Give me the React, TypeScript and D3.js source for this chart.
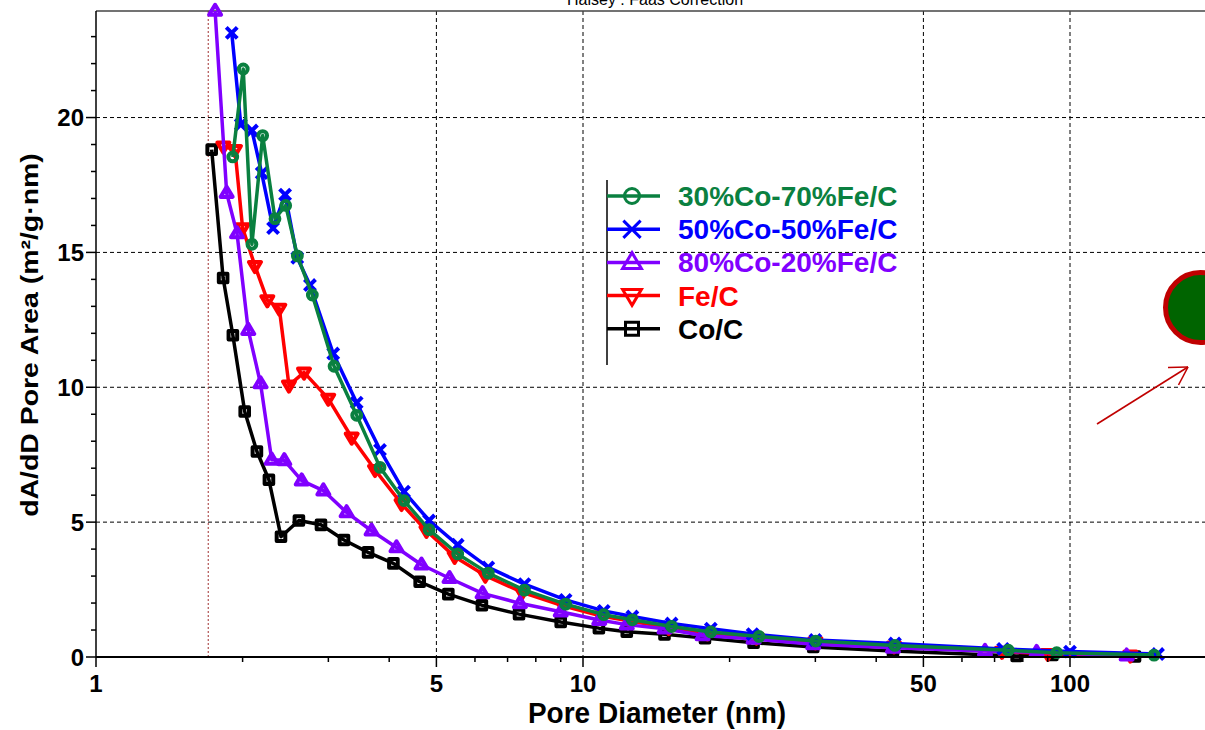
import React from "react";
import * as d3 from "d3";

const W = 1205;
const H = 730;

const xTicksMajor = [1, 5, 10, 50, 100];
const xTickLabels = ["1", "5", "10", "50", "100"];
const xTicksMinor = [2, 3, 4, 6, 7, 8, 9, 20, 30, 40, 60, 70, 80, 90, 200];
const yTicksMajor = [0, 5, 10, 15, 20];
const yTicksMinor = [1, 2, 3, 4, 6, 7, 8, 9, 11, 12, 13, 14, 16, 17, 18, 19, 21, 22, 23];
const xGrid = [5, 10, 50, 100];
const yGrid = [5, 10, 15, 20];
const refLine = 1.7;
const yMax = 23.95;

const seriesNames = ["30%Co-70%Fe/C", "50%Co-50%Fe/C", "80%Co-20%Fe/C", "Fe/C", "Co/C"];
const seriesColors = ["#0a8040", "#0000ff", "#8000ff", "#ff0000", "#000000"];
const seriesMarkers = ["circle", "x", "triUp", "triDown", "square"];

const greenX = [1.909, 2.006, 2.09, 2.199, 2.331, 2.452, 2.591, 2.781, 3.082, 3.43, 3.83, 4.29, 4.83, 5.53, 6.39, 7.58, 9.21, 11.03, 12.63, 15.2, 18.3, 22.98, 30.05, 43.7, 74.7, 93.9, 148.8];
const greenY = [18.54, 21.8, 15.3, 19.33, 16.25, 16.74, 14.87, 13.42, 10.78, 8.96, 7.03, 5.8, 4.72, 3.82, 3.11, 2.48, 1.96, 1.57, 1.38, 1.13, 0.93, 0.76, 0.59, 0.43, 0.25, 0.16, 0.07];

const blueX = [1.9, 1.983, 2.09, 2.189, 2.31, 2.445, 2.59, 2.75, 3.07, 3.43, 3.83, 4.29, 4.83, 5.53, 6.39, 7.58, 9.21, 11.03, 12.63, 15.2, 18.3, 22.3, 30, 43.7, 72.9, 100, 151.6];
const blueY = [23.14, 19.74, 19.52, 17.94, 15.9, 17.14, 14.8, 13.79, 11.25, 9.43, 7.68, 6.13, 5.06, 4.16, 3.32, 2.7, 2.12, 1.71, 1.5, 1.24, 1.05, 0.85, 0.63, 0.5, 0.3, 0.2, 0.11];

const purpleX = [1.756, 1.855, 1.948, 2.054, 2.177, 2.295, 2.436, 2.645, 2.93, 3.27, 3.68, 4.14, 4.66, 5.32, 6.22, 7.42, 9.0, 10.8, 12.3, 14.7, 17.6, 22.4, 29.7, 43.3, 66.9, 85.4, 130.7];
const purpleY = [23.95, 17.2, 15.7, 12.12, 10.14, 7.31, 7.29, 6.54, 6.17, 5.36, 4.68, 4.06, 3.42, 2.92, 2.36, 1.99, 1.68, 1.37, 1.2, 1.05, 0.8, 0.67, 0.47, 0.34, 0.22, 0.18, 0.05];

const redX = [1.826, 1.929, 2.0, 2.12, 2.248, 2.379, 2.49, 2.674, 2.998, 3.35, 3.74, 4.24, 4.77, 5.45, 6.3, 7.5, 9.1, 10.9, 12.5, 15.0, 18.0, 22.7, 30, 43.5, 72.5, 90, 133];
const redY = [18.93, 18.8, 15.9, 14.5, 13.23, 12.92, 10.07, 10.55, 9.58, 8.14, 6.94, 5.68, 4.68, 3.72, 3.02, 2.4, 1.9, 1.52, 1.33, 1.08, 0.88, 0.72, 0.55, 0.4, 0.2, 0.12, 0.06];

const blackX = [1.728, 1.824, 1.91, 2.02, 2.14, 2.265, 2.398, 2.61, 2.897, 3.23, 3.62, 4.08, 4.62, 5.29, 6.2, 7.39, 9.0, 10.78, 12.3, 14.7, 17.8, 22.4, 29.7, 43.3, 77.7, 92, 136];
const blackY = [18.81, 14.05, 11.93, 9.1, 7.62, 6.57, 4.46, 5.06, 4.9, 4.34, 3.88, 3.47, 2.79, 2.33, 1.92, 1.59, 1.3, 1.07, 0.94, 0.84, 0.7, 0.53, 0.37, 0.22, 0.04, 0.08, 0.02];

const seriesX = [greenX, blueX, purpleX, redX, blackX];
const seriesY = [greenY, blueY, purpleY, redY, blackY];

const x = d3.scaleLog().domain([1, 100]).range([96, 1070]);
const y = d3.scaleLinear().domain([0, yMax]).range([657, 11]);

const FONT = "'Liberation Sans', Arial, Helvetica, sans-serif";

function markerPath(type: string, s: number): string {
  switch (type) {
    case "circle":
      return `M${-s},0A${s},${s} 0 1,0 ${s},0A${s},${s} 0 1,0 ${-s},0Z`;
    case "x": {
      const a = s * 1.15;
      return `M${-a},${-a}L${a},${a}M${-a},${a}L${a},${-a}`;
    }
    case "triUp": {
      const w = s * 1.25;
      const h = s * 2.1;
      return `M0,${-h * 0.62}L${w},${h * 0.38}L${-w},${h * 0.38}Z`;
    }
    case "triDown": {
      const w = s * 1.25;
      const h = s * 2.1;
      return `M0,${h * 0.62}L${w},${-h * 0.38}L${-w},${-h * 0.38}Z`;
    }
    case "square":
    default: {
      const a = s;
      return `M${-a},${-a}H${a}V${a}H${-a}Z`;
    }
  }
}

export default function App() {
  const line = d3
    .line<[number, number]>()
    .x((d) => x(d[0]))
    .y((d) => y(d[1]));

  const order = [4, 3, 2, 1, 0];
  const xLeft = x(1);
  const xRight = W;
  const yTop = y(yMax);
  const yBottom = y(0);

  const legendX = 607;
  const legendY0 = 196;
  const legendDy = 33.2;

  return (
    <svg
      width={W}
      height={H}
      style={{ position: "absolute", left: 0, top: 0, background: "#fff" }}
      fontFamily={FONT}
    >
      <rect x={0} y={0} width={W} height={H} fill="#fff" />
      <text x={655} y={5} textAnchor="middle" fontSize={16} fill="#000">
        Halsey : Faas Correction
      </text>

      {yGrid.map((v) => (
        <line key={"yg" + v} x1={xLeft} x2={xRight} y1={y(v)} y2={y(v)} stroke="#000" strokeWidth={1} strokeDasharray="4,3" />
      ))}
      {xGrid.map((v) => (
        <line key={"xg" + v} x1={x(v)} x2={x(v)} y1={yTop} y2={yBottom} stroke="#000" strokeWidth={1} strokeDasharray="4,3" />
      ))}
      <line x1={x(refLine)} x2={x(refLine)} y1={yTop} y2={yBottom} stroke="#a03030" strokeWidth={1} strokeDasharray="2,2" />

      <line x1={xLeft} x2={xRight} y1={yTop} y2={yTop} stroke="#444" strokeWidth={1.5} />

      {order.map((i) => {
        const pts: [number, number][] = seriesX[i].map((v, k) => [v, seriesY[i][k]]);
        const col = seriesColors[i];
        const mk = seriesMarkers[i];
        return (
          <g key={"s" + i}>
            <path d={line(pts) || ""} fill="none" stroke={col} strokeWidth={3.5} strokeLinejoin="round" />
            {pts.map((p, k) => (
              <path
                key={k}
                transform={`translate(${x(p[0])},${y(p[1])})`}
                d={markerPath(mk, mk === "square" ? 4.3 : mk === "circle" ? 4.4 : 4.8)}
                fill="none"
                stroke={col}
                strokeWidth={4}
                strokeLinejoin="round"
              />
            ))}
          </g>
        );
      })}

      <line x1={xLeft} x2={xRight} y1={yBottom} y2={yBottom} stroke="#000" strokeWidth={2} />
      <line x1={xLeft} x2={xLeft} y1={yTop} y2={yBottom} stroke="#000" strokeWidth={1.5} />

      {xTicksMajor.map((v, k) => (
        <g key={"xt" + v}>
          <line x1={x(v)} x2={x(v)} y1={yBottom} y2={yBottom + 10} stroke="#000" strokeWidth={1.5} />
          <text x={x(v)} y={692} textAnchor="middle" fontSize={24} fontWeight="bold" fill="#000">
            {xTickLabels[k]}
          </text>
        </g>
      ))}
      {xTicksMinor.map((v) => (
        <line key={"xm" + v} x1={x(v)} x2={x(v)} y1={yBottom} y2={yBottom + 5} stroke="#000" strokeWidth={1.5} />
      ))}
      {yTicksMajor.map((v) => (
        <g key={"yt" + v}>
          <line x1={xLeft - 10} x2={xLeft} y1={y(v)} y2={y(v)} stroke="#000" strokeWidth={1.5} />
          <text x={84} y={y(v)} dy="0.36em" textAnchor="end" fontSize={24} fontWeight="bold" fill="#000">
            {v}
          </text>
        </g>
      ))}
      {yTicksMinor.map((v) => (
        <line key={"ym" + v} x1={xLeft - 5} x2={xLeft} y1={y(v)} y2={y(v)} stroke="#000" strokeWidth={1.5} />
      ))}

      <text
        transform={`translate(657,723) scale(1,1.08)`}
        textAnchor="middle"
        fontSize={28}
        fontWeight="bold"
        fill="#000"
      >
        Pore Diameter (nm)
      </text>
      <text
        transform={`translate(38,335) rotate(-90) scale(0.98,0.82)`}
        textAnchor="middle"
        fontSize={29}
        fontWeight="bold"
        fill="#000"
      >
        dA/dD Pore Area (m²/g·nm)
      </text>

      <line x1={legendX} x2={legendX} y1={180} y2={365} stroke="#000" strokeWidth={1.5} />
      {seriesNames.map((n, i) => {
        const yy = legendY0 + i * legendDy;
        const col = seriesColors[i];
        return (
          <g key={"lg" + i}>
            <line x1={legendX} x2={660} y1={yy} y2={yy} stroke={col} strokeWidth={3.5} />
            <path
              transform={`translate(632,${yy})`}
              d={markerPath(seriesMarkers[i], seriesMarkers[i] === "square" ? 6.5 : 7.5)}
              fill="none"
              stroke={col}
              strokeWidth={3}
            />
            <text x={678} y={yy} dy="0.36em" fontSize={28} fontWeight="bold" fill={col}>
              {n}
            </text>
          </g>
        );
      })}

      <circle cx={1200.5} cy={307.5} r={35} fill="#006400" stroke="#c00000" strokeWidth={5} />
      <g stroke="#c00000" strokeWidth={1.6} fill="none">
        <line x1={1097} y1={424} x2={1188} y2={367} />
        <line x1={1188} y1={367} x2={1168} y2={367.5} />
        <line x1={1188} y1={367} x2={1178.5} y2={385} />
      </g>
    </svg>
  );
}
